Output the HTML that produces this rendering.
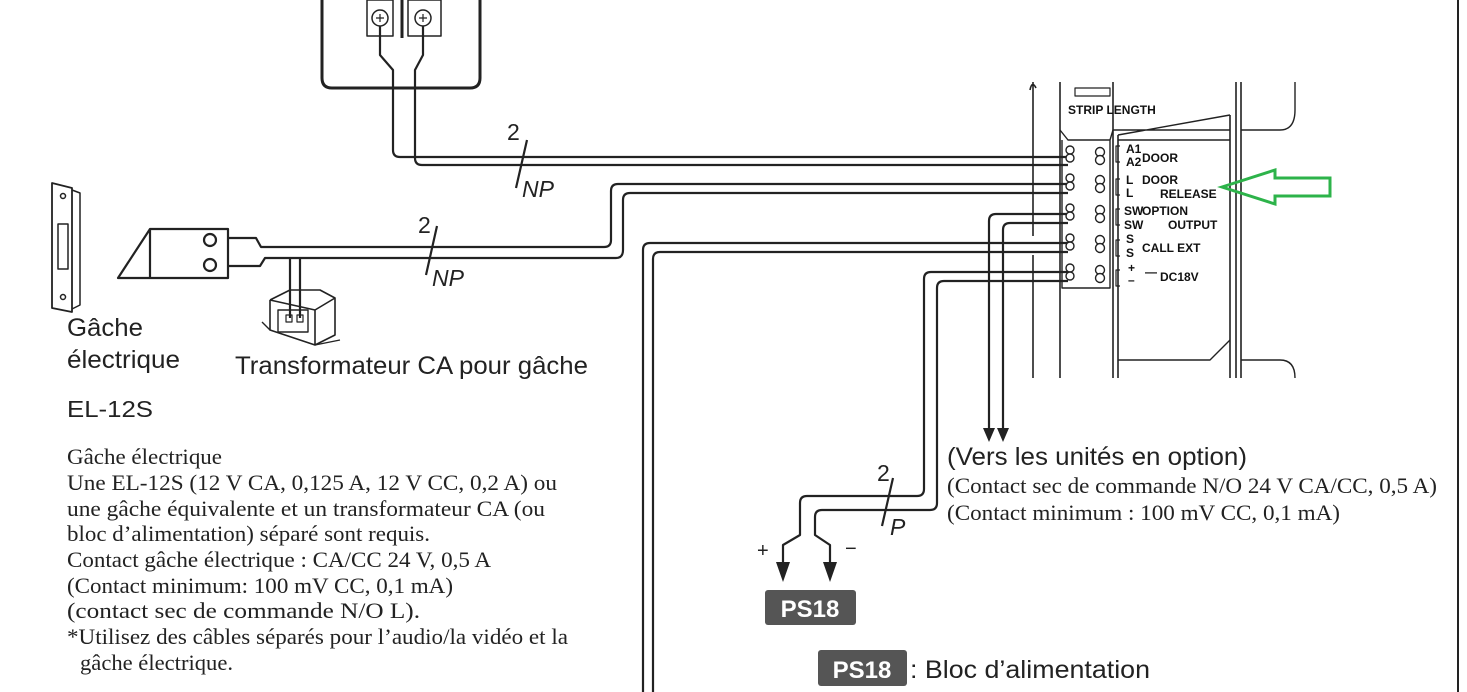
<!DOCTYPE html>
<html><head><meta charset="utf-8"><style>
html,body{margin:0;padding:0;background:#fff;}
body{width:1467px;height:692px;overflow:hidden;position:relative;}
svg{position:absolute;left:0;top:0;}
.s{font-family:"Liberation Sans",sans-serif;fill:#222;}
.r{font-family:"Liberation Serif",serif;fill:#222;}
.m{font-family:"Liberation Sans",sans-serif;font-weight:bold;fill:#111;font-size:12px;}
</style></head><body>
<svg width="1467" height="692" viewBox="0 0 1467 692" xmlns="http://www.w3.org/2000/svg">
<g fill="none" stroke="#222" stroke-width="2.2" stroke-linejoin="round">
<path d="M322 0 V78 Q322 88 332 88 H470 Q480 88 480 78 V0" stroke-width="3"/>
<rect x="367" y="0" width="26" height="36" stroke-width="1.5"/>
<rect x="408" y="0" width="33" height="36" stroke-width="1.5"/>
<line x1="402" y1="0" x2="402" y2="38" stroke-width="3"/>
<circle cx="380" cy="18" r="8" stroke-width="1.5"/><circle cx="423" cy="18" r="8" stroke-width="1.5"/>
<path d="M376 18h8M380 14v8M419 18h8M423 14v8" stroke-width="1.2"/>
<path d="M380 26 V55 L393 70 V150 Q393 157 400 157 H1068"/>
<path d="M423 26 V55 L415 70 V158 Q415 165 422 165 H1068"/>
<path d="M1068 184 H618 Q611 184 611 191 V240 Q611 247 604 247 H261 L256 238 H228"/>
<path d="M1068 193 H630 Q623 193 623 200 V250 Q623 258 616 258 H265 L260 266 H228"/>
<path d="M290 258 V318 M300 258 V318"/>
<path d="M1068 214 H996 Q989 214 989 221 V432"/>
<path d="M1068 223 H1010 Q1003 223 1003 230 V432"/>
<path d="M1068 243 H650 Q643 243 643 250 V692"/>
<path d="M1068 252 H660 Q653 252 653 259 V692"/>
<path d="M1068 272 H931 Q924 272 924 279 V489 Q924 496 917 496 H807 Q800 496 800 503 V535 L783 545 V568"/>
<path d="M1068 281 H944 Q937 281 937 288 V503 Q937 510 930 510 H822 Q815 510 815 517 V535 L830 545 V568"/>
<path d="M527 140 L516 188 M437 226 L426 275 M893 478 L882 526"/>
<path d="M150 229 H228 V278 H118 Z M150 229 V278" />
<circle cx="210" cy="240" r="6"/><circle cx="210" cy="265" r="6"/>
<path d="M52 183 L72 188 V312 L52 308 Z" stroke-width="1.8"/>
<path d="M72 190 L80 193 V305 L72 309" stroke-width="1.5"/>
<rect x="58" y="224" width="10" height="45" stroke-width="1.5"/>
<circle cx="63" cy="196" r="2.5" stroke-width="1.5"/><circle cx="63" cy="297" r="2.5" stroke-width="1.5"/>
<path d="M270 300 L290 290 H320 L335 298 V335 L315 345 M270 300 V330 L315 345 V310 L335 298 M270 300 L315 310" stroke-width="1.6"/>
<path d="M262 322 L270 330 M315 345 L340 340" stroke-width="1.4"/>
<rect x="278" y="310" width="30" height="22" stroke-width="1.4"/>
<rect x="286" y="315" width="6" height="7" stroke-width="1.2"/><rect x="297" y="315" width="6" height="7" stroke-width="1.2"/>
<path d="M1033 82 V236 M1030 90 Q1032 80 1036 88" stroke-width="1.6"/>
<path d="M1033 255 V378 M1060 82 V378 M1113 82 V378 M1118 135 V378 M1230 115 V378 M1236 82 V378 M1241 82 V378" stroke-width="1.6"/>
<path d="M1118 135 L1230 115 M1118 140 H1230 M1230 340 L1210 360 H1118 M1113 130 H1230 M1241 130 H1280 Q1295 130 1295 110 V82 M1241 360 H1280 Q1295 360 1295 378" stroke-width="1.4"/>
<path d="M1060 130 L1068 140 H1110 L1113 130 M1062 140 V288 H1110 V140" stroke-width="1.4"/>
<path d="M1075 88 H1110 V96 H1075 Z" stroke-width="1.2"/>
<path d="M1458 0 V692" stroke-width="2"/>
<path d="M1120 146 h-4 v16 h4 M1120 179 h-4 v16 h4 M1120 209 h-4 v16 h4 M1120 240 h-4 v16 h4 M1120 270 h-4 v16 h4" stroke-width="1.2"/>
</g>
<g fill="#fff" stroke="#222" stroke-width="1.4">
<g id="t"><circle cx="1070" cy="150" r="4"/><circle cx="1100" cy="152" r="4.5"/></g>
<use href="#t" y="8"/><use href="#t" y="28"/><use href="#t" y="36"/><use href="#t" y="58"/><use href="#t" y="66"/><use href="#t" y="88"/><use href="#t" y="96"/><use href="#t" y="118"/><use href="#t" y="126"/>
</g>
<g fill="#222">
<path d="M983 428 L995 428 L989 442 Z M997 428 L1009 428 L1003 442 Z"/>
<path d="M776 562 L790 562 L783 582 Z M823 562 L837 562 L830 582 Z"/>
<rect x="765" y="590" width="91" height="35" rx="3" fill="#555"/>
<rect x="818" y="650" width="89" height="36" rx="3" fill="#555"/>
</g>
<text x="810" y="617" text-anchor="middle" font-family="Liberation Sans" font-weight="bold" font-size="24" fill="#fff">PS18</text>
<text x="862" y="678" text-anchor="middle" font-family="Liberation Sans" font-weight="bold" font-size="24" fill="#fff">PS18</text>
<text x="910" y="678" class="s" font-size="25" textLength="240" lengthAdjust="spacingAndGlyphs">: Bloc d’alimentation</text>
<text x="757" y="557" class="s" font-size="20">+</text>
<text x="845" y="555" class="s" font-size="20">−</text>
<path d="M1222 187 L1275 170 V178 H1330 V196 H1275 V204 Z" fill="none" stroke="#2db34a" stroke-width="3"/>
<text x="1126" y="153" class="m">A1</text><text x="1126" y="166" class="m">A2</text><text x="1142" y="162" class="m">DOOR</text>
<text x="1126" y="184" class="m">L</text><text x="1126" y="197" class="m">L</text><text x="1142" y="184" class="m">DOOR</text><text x="1160" y="198" class="m">RELEASE</text>
<text x="1124" y="215" class="m" font-size="10">SW</text><text x="1124" y="229" class="m" font-size="10">SW</text><text x="1142" y="215" class="m">OPTION</text><text x="1168" y="229" class="m">OUTPUT</text>
<text x="1126" y="243" class="m">S</text><text x="1126" y="257" class="m">S</text><text x="1142" y="252" class="m">CALL  EXT</text>
<text x="1128" y="272" class="m">+</text><text x="1128" y="284" class="m">–</text><text x="1145" y="276" class="m">—</text><text x="1160" y="281" class="m">DC18V</text>
<text x="1068" y="114" class="m" font-size="6">STRIP LENGTH</text>
<text x="507" y="140" class="s" font-size="23">2</text>
<text x="522" y="197" class="s" font-size="23" font-style="italic">NP</text>
<text x="418" y="233" class="s" font-size="23">2</text>
<text x="432" y="286" class="s" font-size="23" font-style="italic">NP</text>
<text x="877" y="481" class="s" font-size="23">2</text>
<text x="890" y="535" class="s" font-size="23" font-style="italic">P</text>
<text x="67" y="336" class="s" font-size="25" textLength="76" lengthAdjust="spacingAndGlyphs">Gâche</text>
<text x="67" y="368" class="s" font-size="25" textLength="113" lengthAdjust="spacingAndGlyphs">électrique</text>
<text x="235" y="374" class="s" font-size="25" textLength="353" lengthAdjust="spacingAndGlyphs">Transformateur CA pour gâche</text>
<text x="67" y="417" class="s" font-size="23" textLength="86" lengthAdjust="spacingAndGlyphs">EL-12S</text>
<g class="r" font-size="22">
<text x="67" y="464" textLength="155" lengthAdjust="spacingAndGlyphs">Gâche électrique</text>
<text x="67" y="490" textLength="490" lengthAdjust="spacingAndGlyphs">Une EL-12S (12 V CA, 0,125 A, 12 V CC, 0,2 A) ou</text>
<text x="67" y="516" textLength="478" lengthAdjust="spacingAndGlyphs">une gâche équivalente et un transformateur CA (ou</text>
<text x="67" y="541" textLength="363" lengthAdjust="spacingAndGlyphs">bloc d’alimentation) séparé sont requis.</text>
<text x="67" y="567" textLength="424" lengthAdjust="spacingAndGlyphs">Contact gâche électrique : CA/CC 24 V, 0,5 A</text>
<text x="67" y="593" textLength="386" lengthAdjust="spacingAndGlyphs">(Contact minimum: 100 mV CC, 0,1 mA)</text>
<text x="67" y="618" textLength="353" lengthAdjust="spacingAndGlyphs">(contact sec de commande N/O L).</text>
<text x="67" y="644" textLength="501" lengthAdjust="spacingAndGlyphs">*Utilisez des câbles séparés pour l’audio/la vidéo et la</text>
<text x="80" y="670" textLength="153" lengthAdjust="spacingAndGlyphs">gâche électrique.</text>
<text x="947" y="493" textLength="490" lengthAdjust="spacingAndGlyphs">(Contact sec de commande N/O 24 V CA/CC, 0,5 A)</text>
<text x="947" y="520" textLength="393" lengthAdjust="spacingAndGlyphs">(Contact minimum : 100 mV CC, 0,1 mA)</text>
</g>
<text x="947" y="465" class="s" font-size="25" textLength="300" lengthAdjust="spacingAndGlyphs">(Vers les unités en option)</text>
</svg>
</body></html>
